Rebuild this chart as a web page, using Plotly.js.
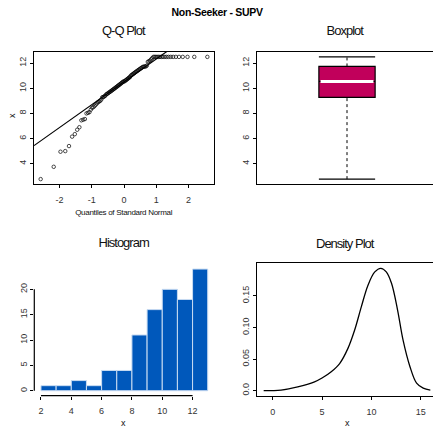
<!DOCTYPE html>
<html><head><meta charset="utf-8">
<script src="https://cdn.plot.ly/plotly-3.0.1.min.js"></script>
<style>html,body{margin:0;padding:0;overflow:hidden;background:#fff}
g.annotation[data-index="1"] text,g.annotation[data-index="2"] text,g.annotation[data-index="3"] text,g.annotation[data-index="4"] text{letter-spacing:-1px}
g.annotation[data-index="0"] text{letter-spacing:-0.3px}
g.annotation[data-index="5"] text{letter-spacing:-0.3px}
</style>
</head><body><div id="chart" style="width:440px;height:430px"></div>
<script>
// ---- data ----
const sampleX = [2.77,3.75,4.95,5.0,5.4,6.15,6.35,6.7,6.9,7.45,7.5,7.55,8.0,
 8.05,8.1,8.3,8.45,8.5,8.6,8.7,8.8,8.9,8.95,9.0,
 9.1,9.28,9.3,9.35,9.4,9.5,9.55,9.6,9.65,9.7,9.75,9.8,9.85,9.9,9.95,10.0,
 10.05,10.1,10.15,10.2,10.25,10.3,10.35,10.4,10.45,10.5,10.55,10.55,10.6,10.65,10.7,10.75,10.8,10.85,10.9,11.0,
 11.05,11.1,11.15,11.2,11.25,11.3,11.35,11.4,11.45,11.5,11.55,11.6,11.65,11.7,11.72,11.74,11.74,11.8,
 12.1,12.15,12.2,12.3,12.4,12.5,12.5,12.5,12.5,12.5,12.5,12.5,12.5,12.5,12.5,12.5,12.5,12.5,12.5,12.5,12.5,12.5,12.5,12.5];
const histEdges = [2,3,4,5,6,7,8,9,10,11,12,13];
const histCounts = [1,1,2,1,4,4,11,16,20,18,24];
const densX = [-0.91,0.85,2.54,4.24,5.0,5.93,6.78,7.62,8.3,8.98,9.65,10.34,10.95,11.5,12.03,12.64,13.2,13.9,14.57,15.24,15.96];
const densY = [0.0,0.001,0.006,0.014,0.020,0.030,0.043,0.067,0.096,0.133,0.167,0.188,0.1937,0.188,0.170,0.128,0.080,0.038,0.012,0.004,0.001];
const qqXTicks = [-2,-1,0,1,2];
const qqXLabels = ["-2","-1","0","1","2"];
const valTicks = [4,6,8,10,12];
const histXTicks = [2,4,6,8,10,12];
const histYTicks = [0,5,10,15,20];
const densXTicks = [0,5,10,15];
const densYTicks = [0,0.05,0.10,0.15];
const densYLabels = ["0.0","0.05","0.10","0.15"];
const titles = {main:"Non-Seeker - SUPV", qq:"Q-Q Plot", box:"Boxplot", hist:"Histogram", dens:"Density Plot", qqx:"Quantiles of Standard Normal", xlab:"x"};

// ---- helpers ----
function qnorm(p){
 const a=[-3.969683028665376e+01,2.209460984245205e+02,-2.759285104469687e+02,1.383577518672690e+02,-3.066479806614716e+01,2.506628277459239e+00];
 const b=[-5.447609879822406e+01,1.615858368580409e+02,-1.556989798598866e+02,6.680131188771972e+01,-1.328068155288572e+01];
 const c=[-7.784894002430293e-03,-3.223964580411365e-01,-2.400758277161838e+00,-2.549732539343734e+00,4.374664141464968e+00,2.938163982698783e+00];
 const d=[7.784695709041462e-03,3.224671290700398e-01,2.445134137142996e+00,3.754408661907416e+00];
 const pl=0.02425;
 if(p<pl){const q=Math.sqrt(-2*Math.log(p));return (((((c[0]*q+c[1])*q+c[2])*q+c[3])*q+c[4])*q+c[5])/((((d[0]*q+d[1])*q+d[2])*q+d[3])*q+1);}
 if(p>1-pl){const q=Math.sqrt(-2*Math.log(1-p));return -(((((c[0]*q+c[1])*q+c[2])*q+c[3])*q+c[4])*q+c[5])/((((d[0]*q+d[1])*q+d[2])*q+d[3])*q+1);}
 const q=p-0.5,r=q*q;return (((((a[0]*r+a[1])*r+a[2])*r+a[3])*r+a[4])*r+a[5])*q/(((((b[0]*r+b[1])*r+b[2])*r+b[3])*r+b[4])*r+1);
}
function fivenum(x){const s=[...x].sort((a,b)=>a-b),n=s.length;const n4=Math.floor((n+3)/2)/2;return [1,n4,(n+1)/2,n+1-n4,n].map(v=>0.5*(s[Math.floor(v)-1]+s[Math.ceil(v)-1]));}
function q7(s,p){const h=(s.length-1)*p,lo=Math.floor(h);return s[lo]+(h-lo)*(s[Math.min(lo+1,s.length-1)]-s[lo]);}
function pad(lo,hi){const d=(hi-lo)*0.04;return [lo-d,hi+d];}

const sorted=[...sampleX].sort((a,b)=>a-b);
const n=sorted.length;
const theo=sorted.map((v,i)=>qnorm((i+1-0.5)/n));
const qqXRange=pad(theo[0],theo[n-1]);
const valRange=pad(sorted[0],sorted[n-1]);
const zq=qnorm(0.75);
const yq1=q7(sorted,0.25), yq3=q7(sorted,0.75);
const slope=(yq3-yq1)/(2*zq), icpt=yq1+zq*slope;
const fn=fivenum(sampleX);
const binW=histEdges[1]-histEdges[0];
const histCenters=histCounts.map((c,i)=>histEdges[i]+binW/2);
const histXRange=pad(histEdges[0],histEdges[histEdges.length-1]);
const histYRange=pad(0,Math.max(...histCounts));
const densXRange=pad(Math.min(...densX),Math.max(...densX));
const densYRange=pad(0,Math.max(...densY));

const W=440,H=430;
const dx=(a,b)=>[a/W,b/W];
const dy=(top,bot)=>[1-bot/H,1-top/H];
const FONT="Liberation Sans, Arial, sans-serif";
const tickFont={family:FONT,size:9,color:"#333"};
const axBase={showgrid:false,zeroline:false,ticks:"outside",ticklen:3,tickcolor:"#000",tickwidth:1,tickfont:tickFont,linecolor:"#000",linewidth:1.2,fixedrange:true};

const traces=[
 {type:"scatter",mode:"markers",x:theo,y:sorted,xaxis:"x",yaxis:"y",marker:{symbol:"circle-open",size:3.5,color:"#000",line:{width:0.7,color:"#000"}},hoverinfo:"skip"},
 {type:"scatter",mode:"lines",x:qqXRange,y:qqXRange.map(z=>icpt+slope*z),xaxis:"x",yaxis:"y",line:{color:"#000",width:1.2}},
 {type:"box",x:[0],q1:[fn[1]],median:[fn[2]],q3:[fn[3]],lowerfence:[fn[1]],upperfence:[fn[3]],width:1,xaxis:"x2",yaxis:"y2",fillcolor:"#C1005B",line:{color:"#000",width:1.2},boxpoints:false,hoverinfo:"skip"},
 {type:"scatter",mode:"lines",x:[0,0],y:[fn[0],fn[1]],xaxis:"x2",yaxis:"y2",line:{color:"#000",width:1,dash:"dot"}},
 {type:"scatter",mode:"lines",x:[0,0],y:[fn[3],fn[4]],xaxis:"x2",yaxis:"y2",line:{color:"#000",width:1,dash:"dot"}},
 {type:"scatter",mode:"lines",x:[-0.5,0.5],y:[fn[0],fn[0]],xaxis:"x2",yaxis:"y2",line:{color:"#000",width:1.3}},
 {type:"scatter",mode:"lines",x:[-0.5,0.5],y:[fn[4],fn[4]],xaxis:"x2",yaxis:"y2",line:{color:"#000",width:1.3}},
 {type:"scatter",mode:"lines",x:[-0.47,0.47],y:[fn[2],fn[2]],xaxis:"x2",yaxis:"y2",line:{color:"#fff",width:3}},
 {type:"bar",x:histCenters,y:histCounts,width:binW,xaxis:"x3",yaxis:"y3",marker:{color:"#0058BB",line:{color:"#C9DCF2",width:1}},hoverinfo:"skip"},
 {type:"scatter",mode:"lines",x:densX,y:densY,xaxis:"x4",yaxis:"y4",line:{color:"#000",width:1.3,shape:"spline"},hoverinfo:"skip"}
];

const ann=(text,px,py,size,extra)=>Object.assign({text,x:px/W,y:1-py/H,xref:"paper",yref:"paper",showarrow:false,xanchor:"center",yanchor:"middle",font:{family:FONT,size,color:"#111"}},extra||{});

const layout={
 width:W,height:H,margin:{l:0,r:0,t:0,b:0},showlegend:false,paper_bgcolor:"#fff",plot_bgcolor:"#fff",bargap:0,
 xaxis:Object.assign({},axBase,{anchor:"y",domain:dx(34,214),range:qqXRange,tickvals:qqXTicks,ticktext:qqXLabels,showline:true,mirror:true,ticklabelstandoff:4}),
 yaxis:Object.assign({},axBase,{anchor:"x",domain:dy(52,184),range:valRange,tickvals:valTicks,tickangle:-90,showline:true,mirror:true}),
 xaxis2:Object.assign({},axBase,{anchor:"y2",domain:dx(257,437),range:[-1.6,1.6],showticklabels:false,ticks:"",showline:true,mirror:true}),
 yaxis2:Object.assign({},axBase,{anchor:"x2",domain:dy(52,184),range:valRange,tickvals:valTicks,tickangle:-90,showline:true,mirror:true}),
 xaxis3:Object.assign({},axBase,{anchor:"y3",domain:dx(34.3,214.4),range:histXRange,tickvals:histXTicks,showline:false,ticklabelstandoff:4}),
 yaxis3:Object.assign({},axBase,{anchor:"x3",domain:dy(264.2,395.6),range:histYRange,tickvals:histYTicks,tickangle:-90,showline:false}),
 xaxis4:Object.assign({},axBase,{anchor:"y4",domain:dx(257,437),range:densXRange,tickvals:densXTicks,showline:true,mirror:true,ticklabelstandoff:4}),
 yaxis4:Object.assign({},axBase,{anchor:"x4",domain:dy(263.4,395.6),range:densYRange,tickvals:densYTicks,ticktext:densYLabels,tickangle:-90,showline:true,mirror:true}),
 shapes:[
  {type:"line",xref:"x3",yref:"y3 domain",x0:histXTicks[0],x1:histXTicks[histXTicks.length-1],y0:0,y1:0,line:{color:"#000",width:1.2}},
  {type:"line",xref:"x3 domain",yref:"y3",x0:0,x1:0,y0:histYTicks[0],y1:histYTicks[histYTicks.length-1],line:{color:"#000",width:1.2}}
 ],
 annotations:[
  ann(titles.main,217,12,10.5,{font:{family:FONT,size:10.5,color:"#000",weight:"bold"}}),
  ann(titles.qq,124,31,13),
  ann(titles.box,345,31,13),
  ann(titles.hist,124,242,13),
  ann(titles.dens,345,243,13),
  ann(titles.qqx,124,212,8),
  ann(titles.xlab,12,116,9,{textangle:-90}),
  ann(titles.xlab,124,423,9),
  ann(titles.xlab,347,423,9)
 ]
};
Plotly.newPlot("chart",traces,layout,{staticPlot:true,displayModeBar:false});
</script></body></html>
